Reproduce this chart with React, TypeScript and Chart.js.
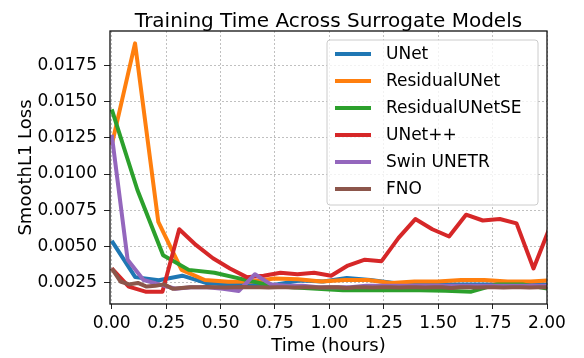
import React, { useEffect, useRef } from "react";
import { Chart, registerables } from "chart.js";

Chart.register(...registerables);

const FONT = '"DejaVu Sans", sans-serif';

const chartTitle = "Training Time Across Surrogate Models";
const xAxisTitle = "Time (hours)";
const yAxisTitle = "SmoothL1 Loss";

const seriesNames = ["UNet", "ResidualUNet", "ResidualUNetSE", "UNet++", "Swin UNETR", "FNO"];
const seriesColors = ["#1f77b4", "#ff7f0e", "#2ca02c", "#d62728", "#9467bd", "#8c564b"];

const unetTimes = [0, 0.108, 0.216, 0.324, 0.432, 0.54, 0.648, 0.756, 0.864, 0.972, 1.08, 1.188, 1.296, 1.404, 1.512, 1.62, 1.728, 1.836, 1.944, 2.052];
const unetLoss = [0.0054, 0.0029, 0.00268, 0.003, 0.0025, 0.00238, 0.00236, 0.0024, 0.00266, 0.0026, 0.00284, 0.0027, 0.0025, 0.0025, 0.0024, 0.0024, 0.0024, 0.0024, 0.0024, 0.0024];

const resUnetTimes = [0, 0.107, 0.214, 0.321, 0.428, 0.535, 0.642, 0.749, 0.856, 0.963, 1.07, 1.177, 1.284, 1.391, 1.498, 1.605, 1.712, 1.819, 1.926, 2.033];
const resUnetLoss = [0.012, 0.019, 0.0067, 0.0034, 0.0027, 0.00258, 0.0026, 0.0028, 0.00275, 0.0026, 0.0027, 0.0027, 0.0025, 0.0026, 0.0026, 0.0027, 0.0027, 0.0026, 0.0026, 0.0027];

const resUnetSETimes = [0, 0.118, 0.236, 0.354, 0.472, 0.59, 0.708, 0.826, 0.944, 1.062, 1.18, 1.298, 1.416, 1.534, 1.652, 1.77, 1.888, 2.006];
const resUnetSELoss = [0.01445, 0.0089, 0.0044, 0.0034, 0.0032, 0.0028, 0.0024, 0.0022, 0.0021, 0.002, 0.002, 0.002, 0.002, 0.00196, 0.0019, 0.0024, 0.0024, 0.0021];

const unetPPTimes = [0, 0.078, 0.155, 0.233, 0.31, 0.388, 0.465, 0.543, 0.62, 0.698, 0.775, 0.853, 0.93, 1.008, 1.085, 1.163, 1.24, 1.318, 1.395, 1.473, 1.55, 1.628, 1.705, 1.783, 1.86, 1.938, 2.015];
const unetPPLoss = [0.0035, 0.00225, 0.0019, 0.0019, 0.0062, 0.0051, 0.0042, 0.0035, 0.0029, 0.003, 0.0032, 0.0031, 0.0032, 0.003, 0.0037, 0.0041, 0.004, 0.0056, 0.0069, 0.0062, 0.0057, 0.0072, 0.0068, 0.0069, 0.0066, 0.0035, 0.0064];

const swinTimes = [0, 0.073, 0.146, 0.219, 0.292, 0.365, 0.438, 0.511, 0.584, 0.658, 0.731, 0.804, 0.877, 0.95, 1.023, 1.096, 1.169, 1.242, 1.315, 1.388, 1.461, 1.534, 1.607, 1.68, 1.753, 1.826, 1.899, 1.972, 2.045];
const swinLoss = [0.0127, 0.0041, 0.0027, 0.0024, 0.0021, 0.0022, 0.0022, 0.0021, 0.00195, 0.0031, 0.0024, 0.0023, 0.0023, 0.0022, 0.0022, 0.0022, 0.0023, 0.0023, 0.0023, 0.0023, 0.0023, 0.0023, 0.0023, 0.0023, 0.0023, 0.0023, 0.0023, 0.0023, 0.0023];

const fnoTimes = [0, 0.04, 0.08, 0.12, 0.16, 0.2, 0.24, 0.28, 0.32, 0.36, 0.4, 0.44, 0.48, 0.52, 0.56, 0.6, 0.64, 0.68, 0.72, 0.76, 0.8, 0.84, 0.88, 0.92, 0.96, 1.0, 1.04, 1.08, 1.12, 1.16, 1.2, 1.24, 1.28, 1.32, 1.36, 1.4, 1.44, 1.48, 1.52, 1.56, 1.6, 1.64, 1.68, 1.72, 1.76, 1.8, 1.84, 1.88, 1.92, 1.96, 2.0];
const fnoLoss = [0.0035, 0.0026, 0.0024, 0.0025, 0.00225, 0.0023, 0.0024, 0.0021, 0.00215, 0.0022, 0.0022, 0.00222, 0.0022, 0.00218, 0.0022, 0.00222, 0.0022, 0.0022, 0.00218, 0.0022, 0.0022, 0.00218, 0.0022, 0.0022, 0.00218, 0.0022, 0.0022, 0.00216, 0.0022, 0.0022, 0.00218, 0.0022, 0.0022, 0.00218, 0.0022, 0.0022, 0.00218, 0.0022, 0.0022, 0.00216, 0.0022, 0.0022, 0.00218, 0.0022, 0.0022, 0.00218, 0.0022, 0.0022, 0.00218, 0.0022, 0.0022];

const seriesTimes = [unetTimes, resUnetTimes, resUnetSETimes, unetPPTimes, swinTimes, fnoTimes];
const seriesLoss = [unetLoss, resUnetLoss, resUnetSELoss, unetPPLoss, swinLoss, fnoLoss];

const xTicks = [0, 0.25, 0.5, 0.75, 1.0, 1.25, 1.5, 1.75, 2.0];
const yTicks = [0.0025, 0.005, 0.0075, 0.01, 0.0125, 0.015, 0.0175];

const decorPlugin = {
  id: "decor",
  afterDatasetsDraw(chart: any) {
    const { ctx, chartArea: a } = chart;
    ctx.save();
    // frame
    ctx.strokeStyle = "#111";
    ctx.lineWidth = 1.3;
    ctx.strokeRect(a.left, a.top, a.right - a.left, a.bottom - a.top);

    // legend
    const bw = 211;
    const bh = 165;
    const bx = a.right - 9 - bw;
    const by = a.top + 9;
    const r = 3;
    ctx.beginPath();
    ctx.moveTo(bx + r, by);
    ctx.lineTo(bx + bw - r, by);
    ctx.arcTo(bx + bw, by, bx + bw, by + r, r);
    ctx.lineTo(bx + bw, by + bh - r);
    ctx.arcTo(bx + bw, by + bh, bx + bw - r, by + bh, r);
    ctx.lineTo(bx + r, by + bh);
    ctx.arcTo(bx, by + bh, bx, by + bh - r, r);
    ctx.lineTo(bx, by + r);
    ctx.arcTo(bx, by, bx + r, by, r);
    ctx.closePath();
    ctx.fillStyle = "rgba(255,255,255,0.8)";
    ctx.fill();
    ctx.strokeStyle = "#cccccc";
    ctx.lineWidth = 1;
    ctx.stroke();

    ctx.font = `17px ${FONT}`;
    ctx.textBaseline = "middle";
    ctx.textAlign = "left";
    chart.data.datasets.forEach((ds: any, i: number) => {
      const cy = by + 14 + 27 * i;
      ctx.strokeStyle = ds.borderColor;
      ctx.lineWidth = 4;
      ctx.beginPath();
      ctx.moveTo(bx + 8, cy);
      ctx.lineTo(bx + 44, cy);
      ctx.stroke();
      ctx.fillStyle = "#000";
      ctx.fillText(ds.label, bx + 59, cy + 1);
    });

    // title
    const cx = (a.left + a.right) / 2;
    ctx.textBaseline = "alphabetic";
    ctx.textAlign = "center";
    ctx.fillStyle = "#000";
    ctx.font = `20px ${FONT}`;
    ctx.fillText(chartTitle, cx, 27);

    // axis titles
    ctx.font = `18px ${FONT}`;
    ctx.fillText(xAxisTitle, cx, 351);
    ctx.save();
    ctx.translate(31, (a.top + a.bottom) / 2);
    ctx.rotate(-Math.PI / 2);
    ctx.fillText(yAxisTitle, 0, 0);
    ctx.restore();

    ctx.restore();
  },
};

export default function App() {
  const canvasRef = useRef<HTMLCanvasElement | null>(null);

  useEffect(() => {
    document.body.style.margin = "0";
    const canvas = canvasRef.current;
    if (!canvas) return;

    const datasets = seriesNames.map((name, i) => ({
      label: name,
      data: seriesTimes[i].map((t, j) => ({ x: t, y: seriesLoss[i][j] })),
      borderColor: seriesColors[i],
      backgroundColor: seriesColors[i],
      borderWidth: 4,
      pointRadius: 0,
      tension: 0,
      fill: false,
      order: seriesNames.length - 1 - i,
      clip: 0,
      borderJoinStyle: "round" as const,
      borderCapStyle: "butt" as const,
    }));

    const chart = new Chart(canvas, {
      type: "line",
      data: { datasets },
      plugins: [decorPlugin],
      options: {
        animation: false,
        responsive: false,
        maintainAspectRatio: false,
        layout: { padding: { top: 31, right: 37, left: 0, bottom: 0 } },
        plugins: {
          legend: { display: false },
          title: { display: false },
          tooltip: { enabled: false },
        },
        scales: {
          x: {
            type: "linear",
            min: -0.008,
            max: 2.0,
            afterBuildTicks: (scale: any) => {
              scale.ticks = xTicks.map((v) => ({ value: v }));
            },
            afterFit: (scale: any) => {
              scale.height = 54;
            },
            ticks: {
              callback: (v: any) => Number(v).toFixed(2),
              font: { family: FONT, size: 17 },
              color: "#000",
              padding: 4,
              maxRotation: 0,
              autoSkip: false,
            },
            grid: {
              color: "#b0b0b0",
              lineWidth: 0.8,
              tickColor: "#222",
              tickLength: 5,
              tickWidth: 1,
            },
            border: { display: false, dash: [2, 2] },
          },
          y: {
            type: "linear",
            min: 0.00105,
            max: 0.01985,
            afterBuildTicks: (scale: any) => {
              scale.ticks = yTicks.map((v) => ({ value: v }));
            },
            afterFit: (scale: any) => {
              scale.width = 110;
            },
            ticks: {
              callback: (v: any) => Number(v).toFixed(4),
              font: { family: FONT, size: 17 },
              color: "#000",
              padding: 7,
              autoSkip: false,
            },
            grid: {
              color: "#b0b0b0",
              lineWidth: 0.8,
              tickColor: "#222",
              tickLength: 6,
              tickWidth: 1,
            },
            border: { display: false, dash: [2, 2] },
          },
        },
      },
    });

    return () => {
      chart.destroy();
    };
  }, []);

  return (
    <div style={{ width: 584, height: 358 }}>
      <canvas ref={canvasRef} width={584} height={358} style={{ display: "block" }} />
    </div>
  );
}
